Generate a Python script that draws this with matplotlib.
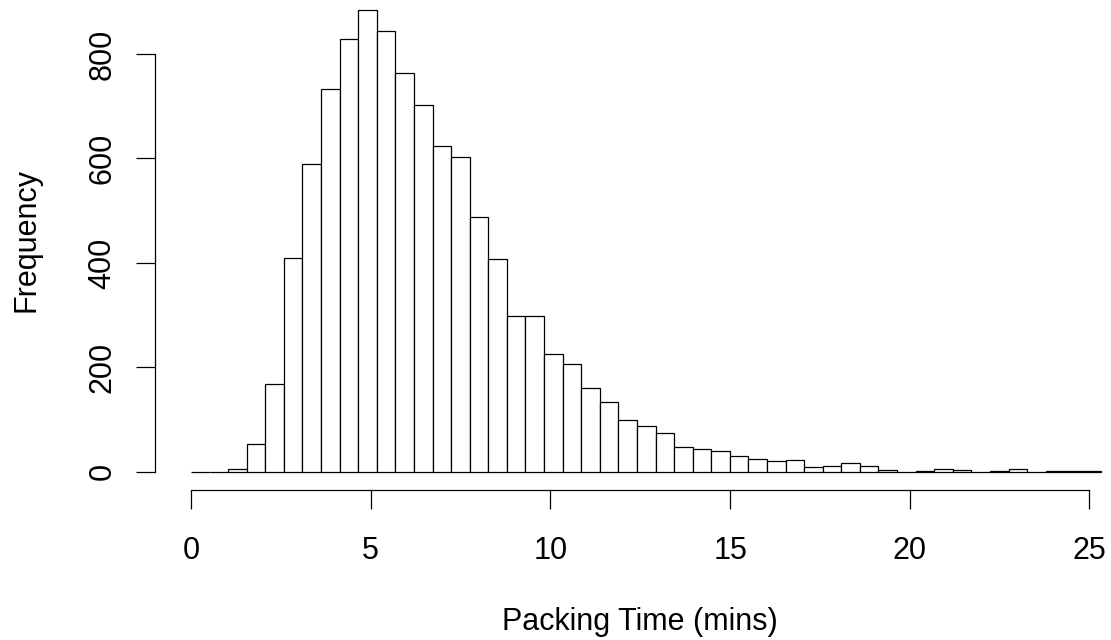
import matplotlib
matplotlib.use("Agg")
import matplotlib.pyplot as plt
import numpy as np

# histogram: 49 equal bins starting at 0
bin_width = 0.517
counts = [0, 0, 6, 53, 168, 410, 589, 734, 829, 884,
          845, 763, 703, 623, 603, 488, 407, 299, 299, 226,
          207, 160, 134, 99, 88, 75, 48, 44, 39, 31,
          24, 21, 23, 9, 11, 17, 10, 4, 0, 1,
          5, 3, 0, 2, 5, 0, 1, 2, 1]
x_ticks = [0, 5, 10, 15, 20, 25]
y_ticks = [0, 200, 400, 600, 800]

plt.rcParams["font.family"] = ["Liberation Sans", "DejaVu Sans"]
plt.rcParams["font.size"] = 22

fig = plt.figure(figsize=(11.11, 6.4), dpi=100)
ax = fig.add_axes([0.13915, 0.23406, 0.8845, 0.7789])

lefts = np.arange(len(counts)) * bin_width
ax.bar(lefts, counts, width=bin_width, align="edge",
       facecolor="white", edgecolor="black", linewidth=0.9)

# R-style axes: lines only between first and last tick, ticks outward
ax.set_xlim(-1.013, 26.33)
ax.set_ylim(-35.4, 919.4)
for side in ("top", "right"):
    ax.spines[side].set_visible(False)
ax.spines["bottom"].set_bounds(x_ticks[0], x_ticks[-1])
ax.spines["left"].set_bounds(y_ticks[0], y_ticks[-1])
for side in ("bottom", "left"):
    ax.spines[side].set_linewidth(0.9)

ax.set_xticks(x_ticks)
ax.set_yticks(y_ticks)
ax.tick_params(direction="out", length=13.7, width=0.9, labelsize=22)
ax.tick_params(axis="x", pad=19)
ax.tick_params(axis="y", pad=13)
for lab in ax.get_yticklabels():
    lab.set_rotation(90)
    lab.set_va("center")

fig.text(640 / 1111, 1 - 622 / 640, "Packing Time (mins)",
         ha="center", va="center", fontsize=22)
fig.text(27 / 1111, 1 - 240 / 640, "Frequency",
         ha="center", va="center", rotation=90, fontsize=22)

fig.savefig("out.png", dpi=100)
